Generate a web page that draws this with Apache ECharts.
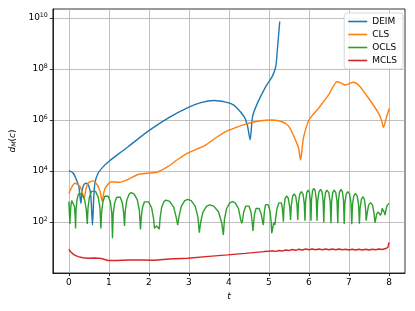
<!DOCTYPE html>
<html><head><meta charset="utf-8">
<script src="https://cdn.jsdelivr.net/npm/echarts@6/dist/echarts.min.js"></script>
<style>html,body{margin:0;padding:0;background:#fff}#c{width:415px;height:311px}</style>
</head><body><div id="c"></div>
<script>
// values are t and log10(d_M(c))
const deimT    = [0.00,0.11,0.19,0.25,0.30,0.33,0.37,0.44,0.50,0.55,0.59,0.62,0.65,0.73,0.86,1.02,1.20,1.48,2.00,2.51,3.00,3.30,3.63,3.92,4.05,4.17,4.38,4.46,4.53,4.59,4.71,4.92,5.08,5.17,5.21,5.27];
const deimLog  = [4.01,3.91,3.65,3.39,2.73,3.20,3.45,3.52,3.40,3.00,1.88,2.90,3.52,3.91,4.17,4.40,4.62,4.95,5.58,6.10,6.50,6.68,6.76,6.70,6.64,6.52,6.13,5.80,5.22,6.13,6.65,7.31,7.70,8.09,8.75,9.86];

const clsT   = [0.00,0.07,0.15,0.27,0.33,0.38,0.43,0.48,0.61,0.71,0.78,0.83,0.88,0.94,1.06,1.27,1.48,1.73,1.97,2.22,2.47,2.72,2.97,3.38,3.72,3.92,4.05,4.34,4.75,5.08,5.33,5.50,5.66,5.74,5.79,5.83,5.87,6.00,6.24,6.49,6.70,6.78,6.91,7.11,7.24,7.49,7.74,7.82,7.86,7.94,8.01];
const clsLog = [3.12,3.36,3.52,3.41,3.20,2.92,3.30,3.52,3.61,3.45,3.20,2.82,3.20,3.41,3.57,3.56,3.67,3.86,3.91,3.96,4.17,4.45,4.70,4.98,5.35,5.54,5.63,5.80,5.96,6.00,5.93,5.74,5.22,4.90,4.43,4.90,5.35,6.00,6.46,6.98,7.50,7.46,7.37,7.48,7.37,6.85,6.26,5.95,5.71,6.13,6.46];

const oclsT = [0.000,0.025,0.033,0.048,0.070,0.090,0.113,0.140,0.158,0.167,0.179,0.203,0.239,0.270,0.327,0.394,0.437,0.460,0.478,0.513,0.565,0.610,0.667,0.734,0.777,0.800,0.817,0.849,0.898,0.940,0.985,1.038,1.072,1.090,1.108,1.143,1.195,1.240,1.285,1.338,1.372,1.390,1.410,1.450,1.509,1.560,1.629,1.710,1.762,1.790,1.807,1.839,1.888,1.930,1.993,2.067,2.115,2.140,2.190,2.260,2.280,2.320,2.379,2.430,2.517,2.619,2.685,2.720,2.750,2.808,2.895,2.970,3.057,3.159,3.225,3.260,3.291,3.351,3.442,3.520,3.622,3.741,3.819,3.860,3.888,3.940,4.021,4.090,4.159,4.240,4.292,4.320,4.337,4.369,4.418,4.460,4.502,4.551,4.583,4.600,4.613,4.639,4.677,4.710,4.755,4.808,4.842,4.860,4.870,4.888,4.916,4.940,4.979,5.025,5.054,5.070,5.120,5.150,5.167,5.199,5.248,5.290,5.311,5.336,5.352,5.360,5.376,5.404,5.440,5.485,5.520,5.540,5.558,5.590,5.630,5.670,5.702,5.720,5.738,5.770,5.810,5.851,5.882,5.900,5.916,5.944,5.980,6.012,6.036,6.050,6.064,6.089,6.120,6.156,6.184,6.200,6.218,6.250,6.290,6.326,6.354,6.370,6.386,6.414,6.450,6.495,6.530,6.550,6.566,6.594,6.630,6.670,6.702,6.720,6.736,6.764,6.800,6.836,6.864,6.880,6.898,6.930,6.970,7.015,7.050,7.070,7.088,7.120,7.160,7.205,7.240,7.260,7.278,7.310,7.350,7.386,7.414,7.430,7.452,7.490,7.540,7.590,7.628,7.650,7.666,7.694,7.730,7.760,7.786,7.800,7.810,7.828,7.850,7.872,7.890,7.900,7.920,7.955,8.000];
const oclsLog = [2.80,1.92,2.19,2.61,2.84,2.89,2.84,2.61,2.19,1.75,2.45,2.87,3.10,3.15,3.10,2.87,2.45,1.92,2.55,2.97,3.20,3.25,3.20,2.97,2.55,1.75,2.36,2.78,3.01,3.06,3.01,2.78,2.36,1.36,2.32,2.74,2.97,3.02,2.97,2.74,2.32,1.84,2.45,2.87,3.10,3.15,3.10,2.87,2.45,1.71,2.14,2.56,2.79,2.84,2.79,2.56,2.14,1.75,1.85,1.72,2.16,2.58,2.81,2.86,2.81,2.58,2.16,1.88,2.19,2.61,2.84,2.89,2.84,2.61,2.19,1.58,1.97,2.39,2.62,2.67,2.62,2.39,1.97,1.49,2.10,2.52,2.75,2.80,2.75,2.52,2.10,1.95,2.05,2.39,2.62,2.67,2.62,2.39,1.97,1.65,1.88,2.30,2.53,2.58,2.53,2.30,2.00,1.88,2.10,2.45,2.68,2.73,2.68,2.45,2.03,1.56,1.97,1.88,2.15,2.52,2.75,2.80,2.75,2.52,2.20,2.01,2.57,2.92,3.02,2.92,2.57,2.08,2.65,3.00,3.10,3.00,2.65,2.08,2.74,3.09,3.19,3.09,2.74,2.05,2.80,3.15,3.25,3.15,2.80,2.05,2.87,3.22,3.32,3.22,2.87,2.05,2.83,3.18,3.28,3.18,2.83,1.98,2.80,3.15,3.25,3.15,2.80,1.95,2.80,3.15,3.25,3.15,2.80,1.95,2.83,3.18,3.28,3.18,2.83,1.92,2.74,3.09,3.19,3.09,2.74,1.91,2.67,3.02,3.12,3.02,2.67,1.93,2.54,2.89,2.99,2.89,2.54,2.05,2.31,2.66,2.76,2.66,2.31,1.97,2.10,2.32,2.40,2.34,2.26,2.21,2.35,2.53,2.60,2.53,2.36,2.27,2.45,2.65,2.73];

const mclsT   = [0.00,0.05,0.12,0.23,0.35,0.48,0.65,0.81,0.98,1.20,1.48,1.80,2.14,2.50,2.97,3.50,3.97,4.40,4.88,5.00,5.08,5.17,5.25,5.33,5.42,5.50,5.58,5.67,5.75,5.83,5.92,6.00,6.08,6.17,6.25,6.33,6.42,6.50,6.58,6.67,6.75,6.83,6.92,7.00,7.08,7.17,7.25,7.33,7.42,7.50,7.58,7.67,7.75,7.83,7.92,7.97,8.00];
const mclsLog = [0.93,0.82,0.72,0.64,0.60,0.58,0.59,0.57,0.49,0.49,0.51,0.51,0.50,0.55,0.58,0.65,0.71,0.77,0.84,0.85,0.87,0.85,0.88,0.86,0.90,0.88,0.92,0.89,0.93,0.90,0.94,0.91,0.94,0.91,0.94,0.91,0.94,0.91,0.94,0.91,0.94,0.91,0.93,0.90,0.93,0.90,0.93,0.90,0.93,0.90,0.93,0.91,0.94,0.92,0.96,1.00,1.20];

const xTicks = [0,1,2,3,4,5,6,7,8];
const yTicks = [1e2,1e4,1e6,1e8,1e10];
const seriesNames = ['DEIM','CLS','OCLS','MCLS'];
const colors = ['#1f77b4','#ff7f0e','#2ca02c','#d62728'];
const smoothing = [0.25, 0.25, false, false];

const pairs = (ts, ls) => ts.map((t, i) => [t, Math.pow(10, ls[i])]);
const dataSets = [pairs(deimT, deimLog), pairs(clsT, clsLog), pairs(oclsT, oclsLog), pairs(mclsT, mclsLog)];

const FF = 'DejaVu Sans';
const chart = echarts.init(document.getElementById('c'), null, {renderer: 'canvas'});
chart.setOption({
  animation: false,
  textStyle: {fontFamily: FF},
  grid: {left: 52, right: 10, top: 9, bottom: 38, show: true, borderColor: '#000', borderWidth: 0.8, backgroundColor: 'transparent'},
  legend: {
    data: seriesNames, orient: 'vertical', right: 12, top: 13,
    icon: 'rect', itemWidth: 19, itemHeight: 1.6, itemGap: 2,
    textStyle: {fontFamily: FF, fontSize: 9, color: '#000', lineHeight: 11},
    backgroundColor: 'rgba(255,255,255,0.85)', borderColor: '#d0d0d0', borderWidth: 0.8, borderRadius: 3,
    padding: [3, 6, 3, 4]
  },
  xAxis: {
    type: 'value', min: -0.4, max: 8.4,
    name: 't', nameLocation: 'middle', nameGap: 16,
    nameTextStyle: {fontFamily: FF, fontSize: 9, fontStyle: 'italic', color: '#000'},
    axisLine: {show: true, onZero: false, lineStyle: {color: '#000', width: 0.8}},
    axisTick: {show: true, customValues: xTicks, length: 3, lineStyle: {color: '#000', width: 0.8}},
    axisLabel: {customValues: xTicks, margin: 5, fontFamily: FF, fontSize: 9, color: '#000'},
    splitLine: {show: true, lineStyle: {color: '#b0b0b0', width: 0.8}}
  },
  yAxis: {
    type: 'log', logBase: 10, min: 1, max: Math.pow(10, 10.35),
    name: '{i|d}{m|M}{n|(}{i|c}{n|)}', nameLocation: 'middle', nameGap: 20, nameRotate: 90,
    nameTextStyle: {fontFamily: FF, color: '#000', rich: {
      i: {fontFamily: FF, fontSize: 9, fontStyle: 'italic', color: '#000'},
      n: {fontFamily: FF, fontSize: 9, color: '#000'},
      m: {fontFamily: FF, fontSize: 6.3, fontStyle: 'italic', color: '#000', verticalAlign: 'bottom', padding: [4,0,0,0]}
    }},
    axisLine: {show: true, onZero: false, lineStyle: {color: '#000', width: 0.8}},
    axisTick: {show: true, customValues: yTicks, length: 3, lineStyle: {color: '#000', width: 0.8}},
    axisLabel: {
      customValues: yTicks, margin: 5,
      formatter: v => '{b|10}{s|' + Math.round(Math.log10(v)) + '}',
      rich: {
        b: {fontFamily: FF, fontSize: 9, color: '#000', lineHeight: 12},
        s: {fontFamily: FF, fontSize: 6.3, color: '#000', verticalAlign: 'top', lineHeight: 12, padding: [0,0,5,0]}
      }
    },
    splitLine: {show: true, lineStyle: {color: '#b0b0b0', width: 0.8}},
    minorTick: {show: false}
  },
  series: seriesNames.map((n, i) => ({
    name: n, type: 'line', data: dataSets[i], showSymbol: false, symbol: 'none',
    smooth: smoothing[i],
    color: colors[i], lineStyle: {color: colors[i], width: 1.4}, clip: true
  }))
});
</script></body></html>
